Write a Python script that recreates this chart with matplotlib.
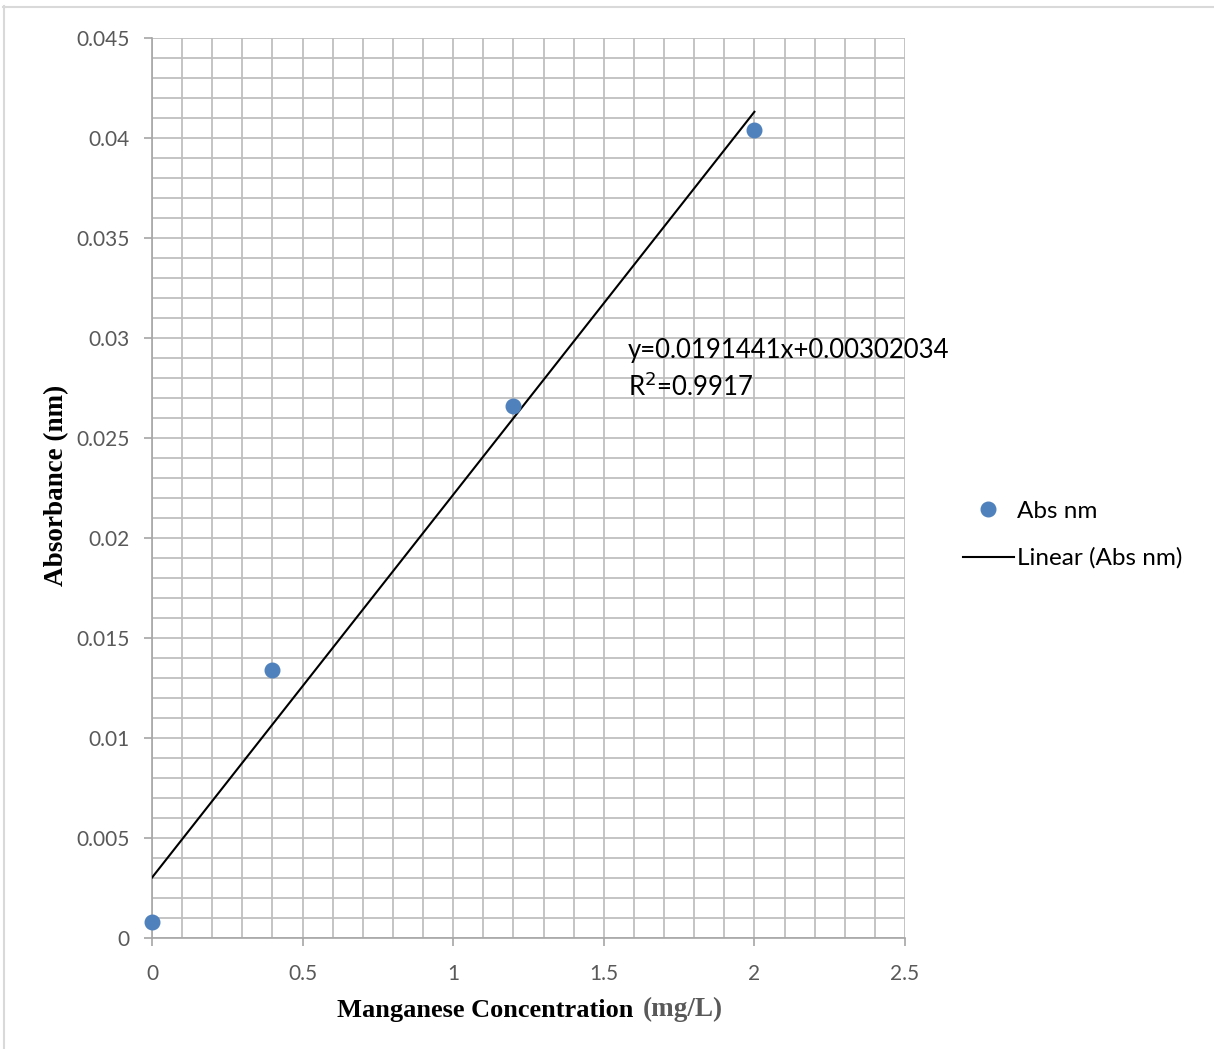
import numpy as np
import matplotlib.pyplot as plt
from matplotlib.lines import Line2D
from matplotlib.ticker import MultipleLocator, FuncFormatter

# data
conc = [0, 0.4, 1.2, 2.0]
absorb = [0.0008, 0.0134, 0.0266, 0.0404]
slope = 0.0191441
intercept = 0.00302034
r2 = 0.9917
x_ticks = [0, 0.5, 1, 1.5, 2, 2.5]
y_ticks = [0, 0.005, 0.01, 0.015, 0.02, 0.025, 0.03, 0.035, 0.04, 0.045]

W, H = 1214, 1049
fig = plt.figure(figsize=(W / 100, H / 100), dpi=100)
ax = fig.add_axes([152 / W, 1 - 938 / H, (905 - 152) / W, (938 - 38) / H])

grid_c = '#BFBFBF'
ax.set_xlim(0, 2.5)
ax.set_ylim(0, 0.045)
ax.set_xticks(x_ticks)
ax.set_yticks(y_ticks)
ax.xaxis.set_minor_locator(MultipleLocator(0.1))
ax.yaxis.set_minor_locator(MultipleLocator(0.001))
fmt = FuncFormatter(lambda v, p: f"{v:g}")
ax.xaxis.set_major_formatter(fmt)
ax.yaxis.set_major_formatter(fmt)
ax.grid(which='both', color=grid_c, linewidth=1.3)
ax.set_axisbelow(True)

for s in ['top', 'right']:
    ax.spines[s].set_visible(False)
for s in ['left', 'bottom']:
    ax.spines[s].set_color('#A6A6A6')
    ax.spines[s].set_linewidth(1.2)
ax.tick_params(which='major', length=6, color='#A6A6A6', width=1.2,
               labelsize=15, labelcolor='#595959', pad=10)
ax.tick_params(axis='x', pad=13)
ax.tick_params(which='minor', length=0)
for lab in ax.get_xticklabels() + ax.get_yticklabels():
    lab.set_family('Lato')

# data points
ax.plot(conc, absorb, 'o', color='#4F81BD', markersize=10.5, clip_on=False, zorder=4)

# trendline
xl = np.array([conc[0], conc[-1]])
ax.plot(xl, slope * xl + intercept, color='black', linewidth=1.5, zorder=3)

ax.text(1.58, 0.0290, f"y={slope}x+{intercept:.8f}", fontsize=18.5, family='Lato',
        color='black', clip_on=False)
ax.text(1.58, 0.0271, r"R$^2$=" + f"{r2}", fontsize=18.5, family='Lato', color='black',
        clip_on=False)

# legend
h1 = Line2D([], [], marker='o', linestyle='none', color='#4F81BD', markersize=10.5)
h2 = Line2D([], [], color='black', linewidth=1.5)
fig.legend([h1, h2], ['Abs nm', 'Linear (Abs nm)'], loc='center left',
           bbox_to_anchor=(941 / W, 1 - 535 / H), frameon=False,
           prop={'family': 'Lato', 'size': 17.5}, handlelength=2.1,
           handletextpad=0.12, labelspacing=1.05)

# axis titles
fig.text(57 / W, 1 - 485 / H, 'Absorbance (nm)', rotation=90, ha='center', va='center',
         family='Liberation Serif', fontweight='bold', fontsize=19.5)
fig.text(640 / W, 1 - 1010 / H, 'Manganese Concentration ', ha='right', va='center',
         family='Liberation Serif', fontweight='bold', fontsize=19)
fig.text(643 / W, 1 - 1009 / H, '(mg/L)', ha='left', va='center',
         family='Liberation Serif', fontweight='bold', fontsize=19.5, color='#595959')

# chart border (top and left visible)
fig.add_artist(Line2D([3 / W, 1213 / W], [1 - 6.5 / H, 1 - 6.5 / H], color='#D9D9D9',
                      linewidth=1.5))
fig.add_artist(Line2D([3.5 / W, 3.5 / W], [1 - 6 / H, 0], color='#D9D9D9', linewidth=1.5))

fig.savefig('out.png', dpi=100)
